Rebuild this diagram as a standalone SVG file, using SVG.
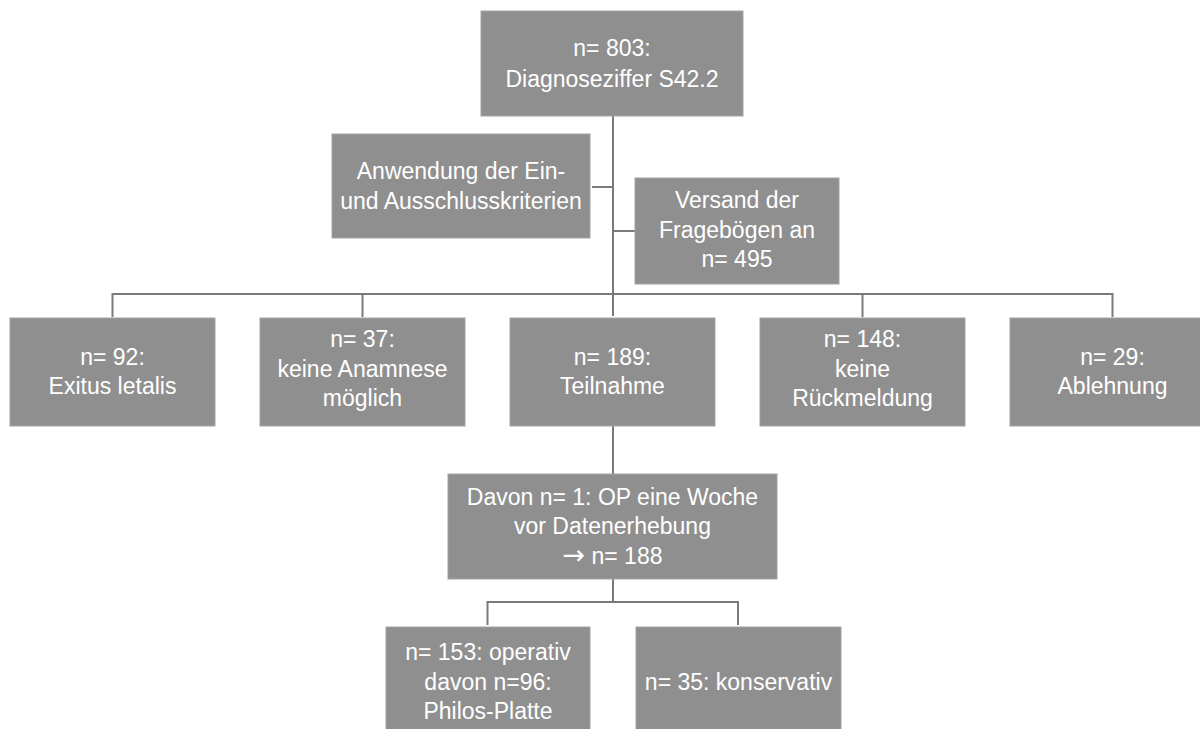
<svg xmlns="http://www.w3.org/2000/svg" width="1200" height="729" viewBox="0 0 1200 729">
<style>
.box{fill:#8f8f8f;stroke:#a3a3a3;stroke-width:1}
.t{font-family:"Liberation Sans",Arial,sans-serif;font-size:23px;fill:#ffffff;text-anchor:middle}
.arr{font-family:"DejaVu Sans",sans-serif;font-size:27px}
.c{fill:none;stroke:#7a7a7a;stroke-width:2}
</style>
<rect width="1200" height="729" fill="#ffffff"/>
<g id="connectors">
<path class="c" d="M613 116V316"/>
<path class="c" d="M592 187H613"/>
<path class="c" d="M613 231H635"/>
<path class="c" d="M112.5 317V294H1112.5V317"/>
<path class="c" d="M362.5 294V317"/>
<path class="c" d="M862.5 294V317"/>
<path class="c" d="M613 426V474"/>
<path class="c" d="M613 579V602"/>
<path class="c" d="M487.5 625V602H738V625"/>
</g>
<g id="n803">
<rect class="box" x="481" y="11" width="262" height="105"/>
<text class="t" x="612" y="56">n= 803:</text>
<text class="t" x="612" y="87">Diagnoseziffer S42.2</text>
</g>
<g id="kriterien">
<rect class="box" x="332" y="134" width="258" height="104"/>
<text class="t" x="461" y="179">Anwendung der Ein-</text>
<text class="t" x="461" y="209">und Ausschlusskriterien</text>
</g>
<g id="versand">
<rect class="box" x="635" y="178" width="204" height="106"/>
<text class="t" x="737" y="208">Versand der</text>
<text class="t" x="737" y="238">Fragebögen an</text>
<text class="t" x="737" y="267">n= 495</text>
</g>
<g id="exitus">
<rect class="box" x="10" y="318" width="205" height="108"/>
<text class="t" x="112.5" y="365">n= 92:</text>
<text class="t" x="112.5" y="394">Exitus letalis</text>
</g>
<g id="anamnese">
<rect class="box" x="260" y="318" width="205" height="108"/>
<text class="t" x="362.5" y="347">n= 37:</text>
<text class="t" x="362.5" y="377">keine Anamnese</text>
<text class="t" x="362.5" y="406">möglich</text>
</g>
<g id="teilnahme">
<rect class="box" x="510" y="318" width="205" height="108"/>
<text class="t" x="612.5" y="365">n= 189:</text>
<text class="t" x="612.5" y="394">Teilnahme</text>
</g>
<g id="rueckmeldung">
<rect class="box" x="760" y="318" width="205" height="108"/>
<text class="t" x="862.5" y="347">n= 148:</text>
<text class="t" x="862.5" y="377">keine</text>
<text class="t" x="862.5" y="406">Rückmeldung</text>
</g>
<g id="ablehnung">
<rect class="box" x="1010" y="318" width="205" height="108"/>
<text class="t" x="1112.5" y="365">n= 29:</text>
<text class="t" x="1112.5" y="394">Ablehnung</text>
</g>
<g id="davon">
<rect class="box" x="448" y="474" width="329" height="105"/>
<text class="t" x="612.5" y="505">Davon n= 1: OP eine Woche</text>
<text class="t" x="612.5" y="534">vor Datenerhebung</text>
<text class="t" x="612.5" y="564"><tspan class="arr">→</tspan> n= 188</text>
</g>
<g id="operativ">
<rect class="box" x="386" y="627" width="204" height="115"/>
<text class="t" x="488" y="660">n= 153: operativ</text>
<text class="t" x="488" y="690">davon n=96:</text>
<text class="t" x="488" y="719">Philos-Platte</text>
</g>
<g id="konservativ">
<rect class="box" x="636" y="627" width="205" height="115"/>
<text class="t" x="738.5" y="690">n= 35: konservativ</text>
</g>
</svg>
